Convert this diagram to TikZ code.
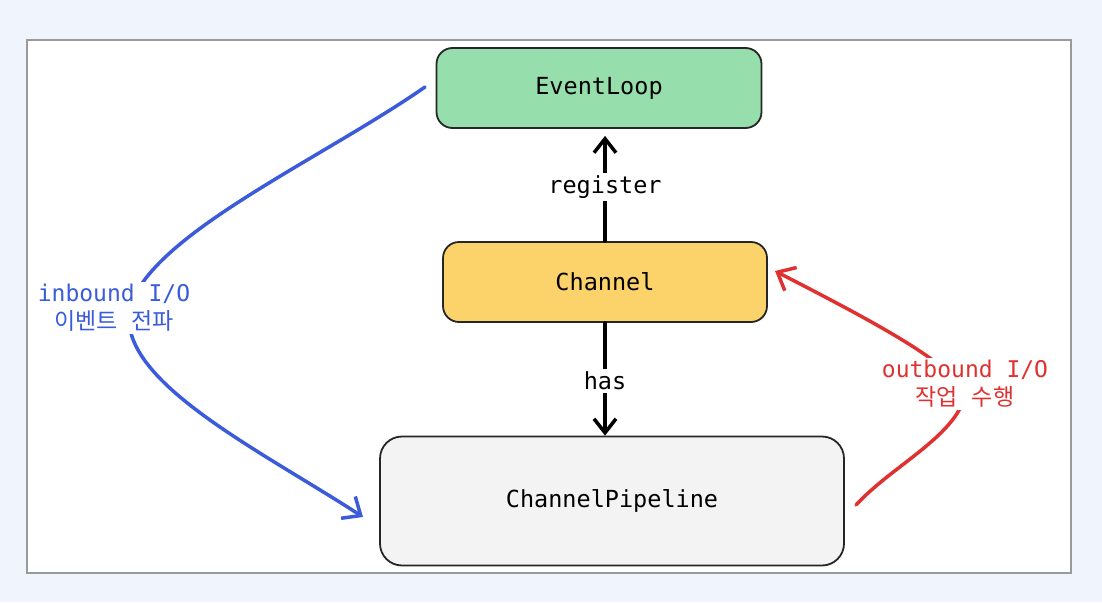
\documentclass[tikz,border=0pt]{standalone}
\usepackage{fontspec}
\setmonofont{DejaVu Sans Mono}
\newfontfamily\kofont{Noto Sans CJK KR}
\usetikzlibrary{arrows.meta}
\definecolor{bgout}{HTML}{F0F4FD}
\definecolor{framegray}{HTML}{9A9A9A}
\definecolor{elgreen}{HTML}{96DEAB}
\definecolor{chyellow}{HTML}{FCD36A}
\definecolor{plgray}{HTML}{F3F3F3}
\definecolor{inblue}{HTML}{3B5BDB}
\definecolor{outred}{HTML}{E03131}
\begin{document}
\begin{tikzpicture}[x=1pt,y=-1pt,
  box/.style={draw=black!85, line width=1.8pt, rounded corners=16pt,
    font=\ttfamily\fontsize{23.5}{29}\selectfont, text=black},
  lbl/.style={fill=white, inner sep=3pt, font=\ttfamily\fontsize{23.5}{29}\selectfont},
  curvelbl/.style={fill=white, inner sep=2pt, align=center,
    font=\ttfamily\fontsize{23}{28}\selectfont},
  arr/.style={line width=3.5pt, line cap=round,
    -{Straight Barb[length=14pt,width=22pt]}},
  carr/.style={line width=3.5pt, line cap=round,
    -{Straight Barb[length=15pt,width=26pt]}}
]
\useasboundingbox (0,0) rectangle (1102,602);
\fill[bgout] (0,0) rectangle (1102,602);
\draw[framegray, line width=2pt, fill=white] (27,40) rectangle (1071,573);

\node[box, fill=elgreen, minimum width=325pt, minimum height=80pt] (el) at (599,88) {EventLoop};
\node[box, fill=chyellow, minimum width=324pt, minimum height=80pt] (ch) at (605,282) {Channel};
\node[box, fill=plgray, rounded corners=22pt, minimum width=464pt, minimum height=129pt] (pl) at (612,501) {ChannelPipeline};

% register / has
\draw[arr] (ch.north) -- ([yshift=-7pt]ch.north |- el.south);
\node[lbl] (reg) at (605,187) {register};
\draw[arr] (ch.south) -- (ch.south |- pl.north);
\node[lbl] (has) at (605,381) {has};

% inbound curve
\coordinate (inS) at (425,87);
\coordinate (inM) at (130,308);
\coordinate (inE) at (363,517);
\draw[inblue, carr] (inS) .. controls (320,160) and (150,235) .. (inM)
   .. controls (115,380) and (260,450) .. (inE);
\node[curvelbl, text=inblue] (inl) at (114,308) {inbound I/O\\{\kofont 이벤트} {\kofont 전파}};

% outbound curve
\coordinate (outS) at (856,505);
\coordinate (outM) at (963,402);
\coordinate (outE) at (775,271);
\draw[outred, carr] (outS) .. controls (890,468) and (948,440) .. (outM)
   .. controls (975,375) and (880,325) .. (outE);
\node[curvelbl, text=outred] (outl) at (965,384) {outbound I/O\\{\kofont 작업} {\kofont 수행}};
\end{tikzpicture}
\end{document}
